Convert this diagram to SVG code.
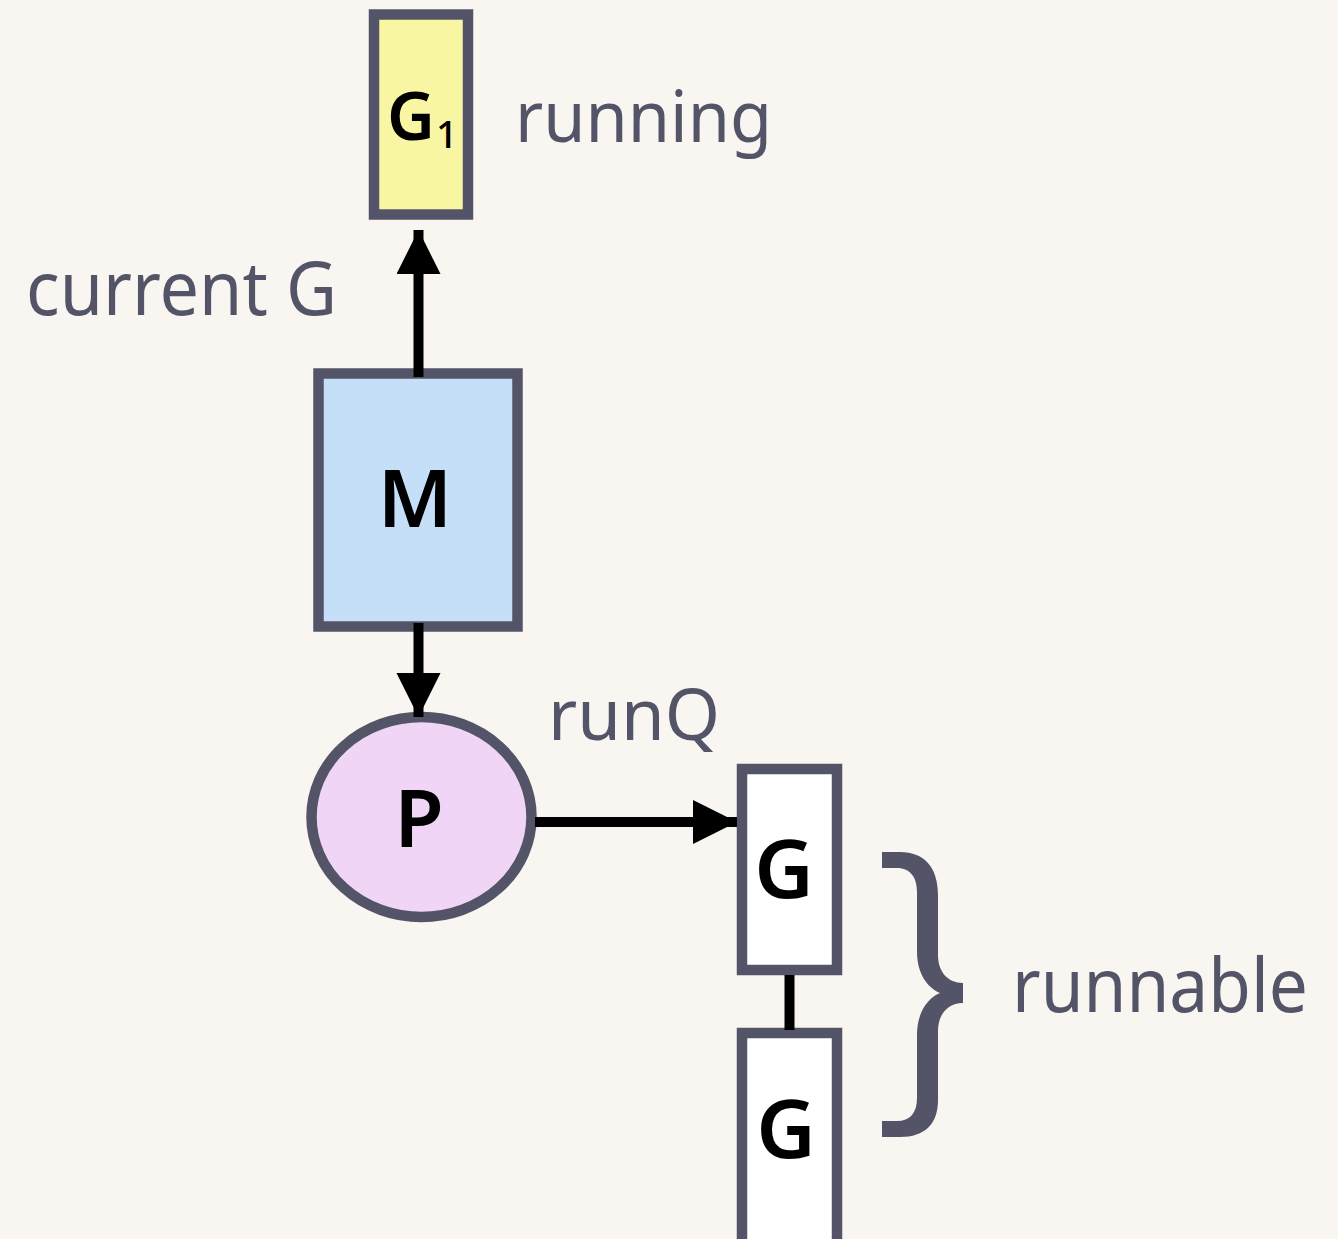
<svg xmlns="http://www.w3.org/2000/svg" width="1338" height="1239" viewBox="0 0 1338 1239">
  <defs>
    <style>
      .node { stroke: #545468; stroke-width: 10.5; }
      .lbl { font-family: "Noto Sans", "Open Sans", sans-serif; font-weight: 600; fill: #000000; }
      .txt { font-family: "Noto Sans", "Open Sans", sans-serif; font-weight: 400; fill: #545468; }
      .conn { stroke: #000000; stroke-width: 10; fill: none; }
    </style>
    <marker id="arrow" markerUnits="userSpaceOnUse" markerWidth="46" markerHeight="46" refX="44" refY="22" orient="auto">
      <path d="M0,0 L44,22 L0,44 z" fill="#000000"/>
    </marker>
  </defs>
  <rect x="0" y="0" width="1338" height="1239" fill="#f9f6f1"/>

  <g id="node-g1">
    <rect class="node" x="374" y="14.5" width="94" height="200" fill="#f9f6a3"/>
    <text class="lbl" x="387" y="140" font-size="66">G<tspan font-size="38" font-weight="500" dx="1" dy="8">1</tspan></text>
  </g>
  <g id="node-m">
    <rect class="node" x="318.5" y="373.5" width="199" height="253" fill="#c5dff8"/>
    <text class="lbl" x="415" y="527" font-size="80" text-anchor="middle">M</text>
  </g>
  <g id="node-p">
    <ellipse class="node" cx="421.5" cy="817" rx="110" ry="100" fill="#f0d5f7"/>
    <text class="lbl" x="419" y="847" font-size="80" text-anchor="middle">P</text>
  </g>
  <g id="node-g-top">
    <rect class="node" x="742" y="769" width="95" height="201" fill="#ffffff"/>
    <text class="lbl" x="784" y="898" font-size="82" text-anchor="middle">G</text>
  </g>
  <g id="node-g-bottom">
    <rect class="node" x="742" y="1033" width="95" height="220" fill="#ffffff"/>
    <text class="lbl" x="786" y="1158" font-size="82" text-anchor="middle">G</text>
  </g>

  <g id="connectors">
    <line class="conn" x1="418.5" y1="377" x2="418.5" y2="230" marker-end="url(#arrow)"/>
    <line class="conn" x1="418.5" y1="623" x2="418.5" y2="717" marker-end="url(#arrow)"/>
    <line class="conn" x1="535" y1="822" x2="737" y2="822" marker-end="url(#arrow)"/>
    <line class="conn" x1="789.5" y1="975" x2="789.5" y2="1030"/>
  </g>

  <g id="brace">
    <path fill="#545468" d="M882,852 L900,852 C925,852 938,868 938,895 L938,955 C938,972 948,983 963,983 L963,1003 C948,1003 938,1014 938,1031 L938,1100 C938,1124 925,1137 900,1137 L882,1137 L882,1121 L897,1121 C910,1121 917,1113 917,1098 L917,1035 C917,1012 928,998 940,993 C928,988 917,974 917,952 L917,892 C917,877 910,868 897,868 L882,868 z"/>
  </g>

  <g id="labels">
    <text class="txt" x="515" y="142" font-size="72" textLength="257" lengthAdjust="spacingAndGlyphs">running</text>
    <text class="txt" x="26" y="315" font-size="74" textLength="311" lengthAdjust="spacingAndGlyphs">current G</text>
    <text class="txt" x="548" y="740" font-size="72" textLength="172" lengthAdjust="spacingAndGlyphs">runQ</text>
    <text class="txt" x="1012" y="1012" font-size="74" textLength="296" lengthAdjust="spacingAndGlyphs">runnable</text>
  </g>
</svg>
